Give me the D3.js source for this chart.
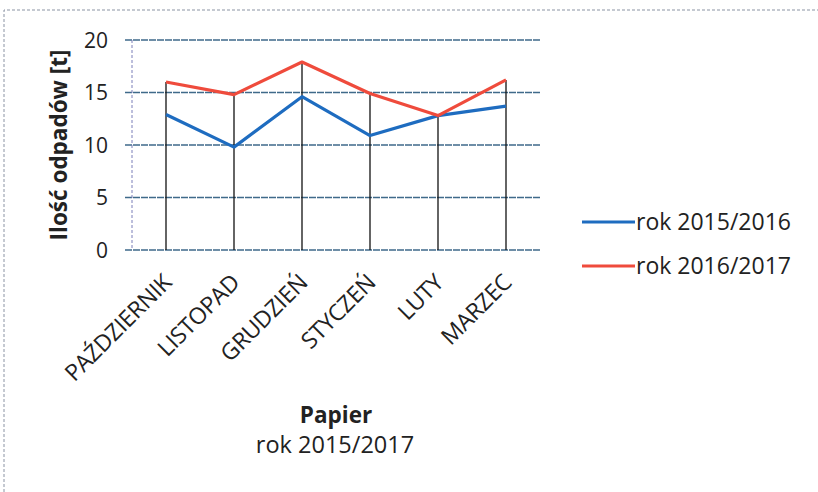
<!DOCTYPE html>
<html><head><meta charset="utf-8">
<script src="https://cdn.jsdelivr.net/npm/d3@7"></script>
<style>body{margin:0;background:#fff}svg{display:block}</style>
</head><body>
<svg id="c" width="818" height="492"></svg>
<script>
const categories = ["PAŹDZIERNIK","LISTOPAD","GRUDZIEŃ","STYCZEŃ","LUTY","MARZEC"];
const series2015 = [12.9, 9.8, 14.6, 10.9, 12.8, 13.7];
const series2016 = [16.0, 14.8, 17.9, 14.9, 12.8, 16.2];
const seriesNames = ["rok 2015/2016","rok 2016/2017"];
const yTicks = [0,5,10,15,20];
const titleMain = "Papier";
const titleSub = "rok 2015/2017";
const yTitle = "Ilość odpadów [t]";

const font = "'Open Sans', sans-serif";
const svg = d3.select("#c");
const colors = ["#1e6cc0","#ef4b3c"];

// border
svg.append("path").attr("d","M4,492 L4,10 L818,10").attr("fill","none")
  .attr("stroke","#8a93a3").attr("stroke-width",1).attr("stroke-dasharray","3,2");

const x = d3.scaleBand().domain(categories).range([132,540]);
const y = d3.scaleLinear().domain([0,20]).range([250,40]);

// grid
svg.append("g").selectAll("line").data(yTicks).join("line")
  .attr("x1",125).attr("x2",540).attr("y1",d=>y(d)).attr("y2",d=>y(d))
  .attr("stroke","#3f6a8a").attr("stroke-width",1.3).attr("stroke-dasharray","7,1");
// y axis line
svg.append("line").attr("x1",132).attr("x2",132).attr("y1",y(20)).attr("y2",y(0))
  .attr("stroke","#7a7fb8").attr("stroke-width",1).attr("stroke-dasharray","3,2");

// y tick labels
svg.append("g").selectAll("text").data(yTicks).join("text")
  .attr("x",108).attr("y",d=>y(d)).attr("dy","0.36em").attr("text-anchor","end")
  .attr("font-family",font).attr("font-size",21).attr("fill","#222").text(d=>d);

// drop lines
const cx = c => x(c) + x.bandwidth()/2;
svg.append("g").selectAll("line").data(categories).join("line")
  .attr("x1",cx).attr("x2",cx)
  .attr("y1",(c,i)=>y(Math.max(series2015[i],series2016[i])))
  .attr("y2",y(0)).attr("stroke","#111").attr("stroke-width",1.3);

// lines
const line = d3.line().x((d,i)=>cx(categories[i])).y(d=>y(d));
[series2015, series2016].forEach((s,k)=>{
  svg.append("path").datum(s).attr("d",line).attr("fill","none")
    .attr("stroke",colors[k]).attr("stroke-width",3.2).attr("stroke-linejoin","round");
});

// category labels
svg.append("g").selectAll("text").data(categories).join("text")
  .attr("transform",c=>`translate(${cx(c)+7},${284}) rotate(-45)`)
  .attr("text-anchor","end").attr("font-family",font).attr("font-size",23)
  .attr("letter-spacing",-0.3).attr("fill","#222").text(d=>d);

// y title
svg.append("text").attr("transform","translate(67,145) rotate(-90)")
  .attr("text-anchor","middle").attr("font-family",font).attr("font-weight","bold")
  .attr("font-size",22.5).attr("fill","#222").text(yTitle);

// legend
seriesNames.forEach((n,k)=>{
  const ly = 222 + k*44;
  svg.append("line").attr("x1",582).attr("x2",635).attr("y1",ly).attr("y2",ly)
    .attr("stroke",colors[k]).attr("stroke-width",3.2);
  svg.append("text").attr("x",636).attr("y",ly).attr("dy","0.35em")
    .attr("font-family",font).attr("font-size",23).attr("fill","#222").text(n);
});

// titles
svg.append("text").attr("x",336).attr("y",423).attr("text-anchor","middle")
  .attr("font-family",font).attr("font-weight","bold").attr("font-size",22.5)
  .attr("fill","#222").text(titleMain);
svg.append("text").attr("x",335).attr("y",453).attr("text-anchor","middle")
  .attr("font-family",font).attr("font-size",23.5).attr("fill","#222").text(titleSub);
</script>
</body></html>
